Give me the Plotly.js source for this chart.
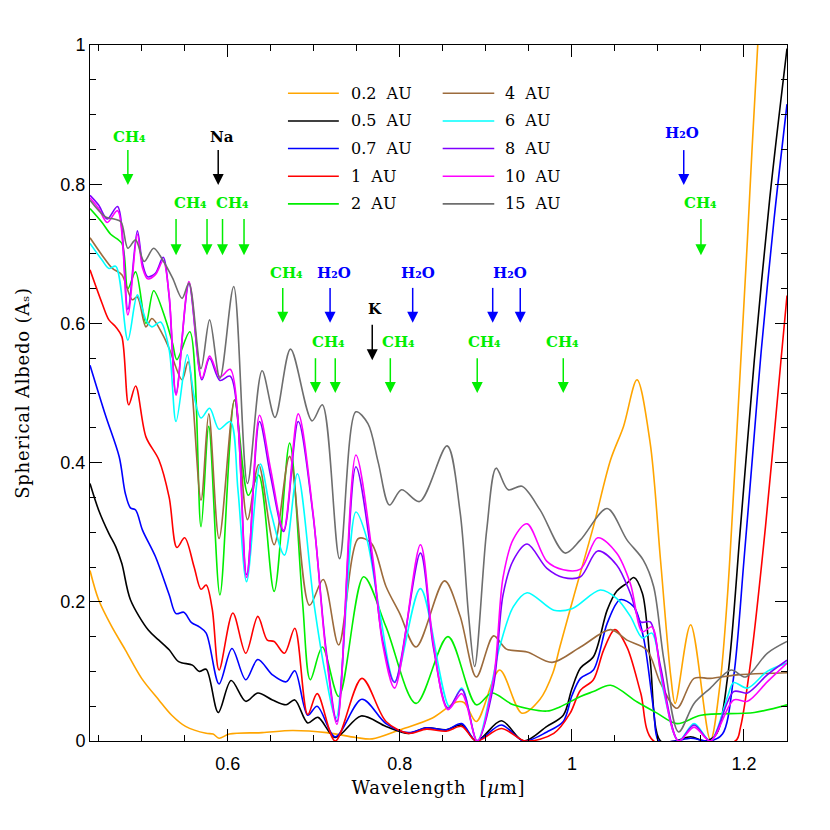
<!DOCTYPE html>
<html><head><meta charset="utf-8">
<script src="https://cdn.plot.ly/plotly-3.0.1.min.js"></script>
<style>
html,body{margin:0;padding:0;background:#fff}
.xtitle,.ytitle{letter-spacing:0.8px}
</style>
</head><body><div id="chart" style="width:830px;height:830px"></div>
<script>
// ---- series data (wavelength in micron, spherical albedo) ----
const seriesNames = ['0.2 AU','0.5 AU','0.7 AU','1 AU','2 AU','4 AU','6 AU','8 AU','10 AU','15 AU'];
const seriesColors = ['#ffa500','#000000','#0000ff','#ff0000','#00ee00','#9c6b3c','#00ffff','#7f00ff','#ff00ff','#6e6e6e'];

const wl_02 = [0.44,0.45,0.465,0.481,0.50,0.52,0.535,0.551,0.575,0.583,0.59,0.602,0.64,0.675,0.715,0.749,0.768,0.80,0.838,0.866,0.875,0.889,0.916,0.942,0.963,0.978,0.986,1.002,1.025,1.045,1.060,1.0757,1.091,1.103,1.115,1.120,1.138,1.161,1.172,1.181,1.192,1.204,1.216,1.226];
const as_02 = [0.245,0.203,0.165,0.131,0.090,0.059,0.037,0.021,0.011,0.010,0.004,0.010,0.012,0.015,0.012,0.005,0.003,0.016,0.033,0.056,0.055,0.028,0.102,0.040,0.060,0.098,0.135,0.207,0.308,0.404,0.452,0.519,0.428,0.260,0.092,0.054,0.167,0.001,0.08,0.212,0.45,0.72,1.0,1.16];

const wl_05 = [0.44,0.45,0.462,0.470,0.477,0.487,0.508,0.52,0.532,0.543,0.559,0.567,0.575,0.589,0.604,0.621,0.635,0.652,0.668,0.678,0.693,0.705,0.725,0.755,0.784,0.81,0.831,0.854,0.872,0.889,0.918,0.944,0.971,0.99,1.0,1.010,1.025,1.041,1.052,1.064,1.072,1.082,1.091,1.103,1.12,1.138,1.155,1.168,1.181,1.196,1.212,1.23,1.25];
const as_05 = [0.370,0.332,0.298,0.279,0.255,0.203,0.159,0.145,0.131,0.114,0.109,0.100,0.103,0.041,0.087,0.057,0.069,0.059,0.052,0.059,0.026,0.034,0.005,0.036,0.021,0.011,0.019,0.016,0.023,0.0,0.029,0.0,0.021,0.037,0.075,0.105,0.121,0.188,0.215,0.227,0.235,0.212,0.116,0.0,0.0,0.006,0.0,0.01,0.092,0.308,0.547,0.78,0.995];

const wl_07 = [0.44,0.458,0.474,0.481,0.487,0.493,0.501,0.516,0.532,0.540,0.549,0.558,0.567,0.575,0.590,0.605,0.621,0.635,0.652,0.668,0.678,0.693,0.704,0.725,0.756,0.784,0.81,0.831,0.854,0.872,0.889,0.918,0.944,0.971,0.99,1.0,1.010,1.025,1.041,1.056,1.072,1.083,1.095,1.101,1.12,1.138,1.16,1.175,1.188,1.20,1.21,1.22,1.235,1.25];
const as_07 = [0.540,0.468,0.408,0.356,0.335,0.332,0.303,0.265,0.210,0.183,0.185,0.170,0.164,0.155,0.082,0.133,0.088,0.117,0.095,0.085,0.101,0.037,0.050,0.006,0.060,0.025,0.012,0.019,0.016,0.025,0.0,0.023,0.0,0.013,0.028,0.065,0.090,0.102,0.169,0.203,0.193,0.150,0.045,0.0,0.0,0.004,0.0,0.01,0.092,0.26,0.41,0.56,0.75,0.915];

const wl_1 = [0.44,0.454,0.462,0.470,0.477,0.485,0.493,0.505,0.520,0.532,0.541,0.550,0.561,0.569,0.575,0.582,0.590,0.606,0.621,0.635,0.646,0.654,0.666,0.678,0.693,0.704,0.725,0.756,0.784,0.81,0.831,0.854,0.872,0.889,0.918,0.946,0.979,0.998,1.01,1.025,1.037,1.050,1.064,1.080,1.095,1.19,1.196,1.208,1.225,1.243,1.25];
const as_1 = [0.677,0.629,0.605,0.595,0.581,0.483,0.510,0.437,0.404,0.350,0.278,0.292,0.250,0.218,0.224,0.190,0.102,0.184,0.126,0.179,0.145,0.143,0.126,0.162,0.038,0.068,0.0,0.090,0.028,0.011,0.017,0.014,0.021,0.0,0.018,0.0,0.011,0.040,0.073,0.088,0.131,0.160,0.135,0.069,0.0,0.0,0.02,0.116,0.308,0.547,0.64];

const wl_2 = [0.44,0.454,0.464,0.477,0.484,0.493,0.505,0.514,0.528,0.536,0.541,0.556,0.569,0.578,0.591,0.608,0.624,0.636,0.654,0.672,0.687,0.696,0.710,0.729,0.758,0.784,0.819,0.856,0.889,0.907,0.932,0.971,0.986,1.01,1.025,1.045,1.076,1.099,1.122,1.150,1.212,1.25];
const as_2 = [0.765,0.745,0.728,0.715,0.650,0.674,0.600,0.647,0.605,0.571,0.548,0.588,0.308,0.452,0.210,0.490,0.353,0.382,0.215,0.428,0.200,0.088,0.135,0.064,0.236,0.164,0.054,0.150,0.052,0.069,0.052,0.043,0.049,0.064,0.071,0.080,0.056,0.040,0.025,0.037,0.041,0.052];

const wl_4 = [0.44,0.454,0.466,0.477,0.489,0.495,0.505,0.512,0.524,0.532,0.547,0.554,0.569,0.578,0.590,0.608,0.623,0.636,0.654,0.672,0.695,0.711,0.729,0.752,0.767,0.784,0.80,0.819,0.852,0.870,0.889,0.909,0.924,0.948,0.977,1.01,1.045,1.064,1.087,1.103,1.122,1.142,1.161,1.192,1.25];
const as_4 = [0.723,0.698,0.679,0.670,0.634,0.638,0.595,0.607,0.585,0.564,0.519,0.545,0.346,0.470,0.291,0.490,0.318,0.397,0.282,0.409,0.195,0.232,0.138,0.291,0.284,0.222,0.183,0.135,0.230,0.180,0.092,0.151,0.132,0.128,0.113,0.135,0.160,0.145,0.131,0.083,0.047,0.090,0.090,0.095,0.098];

const wl_6 = [0.44,0.454,0.462,0.470,0.484,0.495,0.505,0.512,0.522,0.532,0.540,0.553,0.561,0.569,0.579,0.590,0.603,0.612,0.622,0.638,0.650,0.666,0.681,0.700,0.713,0.726,0.749,0.761,0.777,0.794,0.824,0.858,0.872,0.890,0.916,0.932,0.948,0.979,1.0,1.033,1.052,1.068,1.082,1.093,1.107,1.124,1.142,1.161,1.181,1.188,1.204,1.227,1.25];
const as_6 = [0.715,0.691,0.679,0.682,0.576,0.641,0.605,0.595,0.602,0.562,0.459,0.555,0.495,0.464,0.478,0.448,0.459,0.36,0.229,0.398,0.33,0.267,0.384,0.20,0.10,0.033,0.329,0.294,0.183,0.085,0.219,0.049,0.076,0.0,0.135,0.193,0.213,0.188,0.19,0.217,0.205,0.179,0.148,0.155,0.069,0.0,0.025,0.0,0.064,0.084,0.076,0.100,0.112];

const wl_8 = [0.44,0.45,0.46,0.472,0.484,0.495,0.501,0.507,0.516,0.525,0.532,0.540,0.555,0.570,0.579,0.591,0.603,0.622,0.637,0.650,0.665,0.682,0.699,0.714,0.727,0.749,0.769,0.780,0.794,0.824,0.839,0.856,0.872,0.890,0.909,0.920,0.932,0.948,0.971,0.99,1.01,1.030,1.052,1.068,1.080,1.091,1.103,1.124,1.142,1.161,1.188,1.204,1.227,1.25];
const as_8 = [0.784,0.770,0.750,0.768,0.620,0.733,0.686,0.667,0.672,0.695,0.638,0.499,0.657,0.519,0.550,0.518,0.524,0.239,0.459,0.38,0.301,0.459,0.327,0.135,0.028,0.394,0.25,0.145,0.084,0.270,0.135,0.047,0.074,0.0,0.08,0.21,0.26,0.283,0.248,0.235,0.236,0.273,0.253,0.212,0.171,0.171,0.107,0.0,0.023,0.0,0.071,0.069,0.095,0.116];

const wl_10 = [0.44,0.45,0.46,0.472,0.484,0.495,0.501,0.507,0.516,0.525,0.532,0.540,0.555,0.570,0.579,0.591,0.603,0.622,0.637,0.650,0.665,0.682,0.699,0.714,0.727,0.749,0.769,0.780,0.794,0.824,0.839,0.856,0.872,0.890,0.909,0.920,0.932,0.948,0.971,0.99,1.01,1.030,1.052,1.068,1.082,1.093,1.103,1.124,1.142,1.161,1.188,1.204,1.227,1.25];
const as_10 = [0.780,0.765,0.745,0.762,0.612,0.728,0.680,0.664,0.670,0.690,0.640,0.497,0.660,0.521,0.553,0.523,0.534,0.235,0.468,0.39,0.303,0.470,0.33,0.13,0.024,0.411,0.26,0.14,0.076,0.282,0.14,0.045,0.068,0.0,0.09,0.235,0.29,0.312,0.258,0.246,0.247,0.292,0.270,0.226,0.157,0.164,0.10,0.0,0.020,0.0,0.059,0.057,0.085,0.112];

const wl_15 = [0.44,0.458,0.468,0.476,0.484,0.493,0.503,0.514,0.525,0.536,0.547,0.555,0.569,0.579,0.591,0.607,0.623,0.640,0.655,0.673,0.698,0.710,0.730,0.749,0.763,0.775,0.788,0.802,0.823,0.855,0.870,0.880,0.887,0.901,0.912,0.926,0.942,0.963,0.992,1.01,1.041,1.064,1.083,1.095,1.107,1.124,1.142,1.161,1.185,1.202,1.227,1.25];
const as_15 = [0.777,0.753,0.750,0.746,0.708,0.720,0.689,0.708,0.690,0.665,0.636,0.658,0.535,0.605,0.521,0.653,0.370,0.532,0.465,0.563,0.460,0.483,0.262,0.473,0.456,0.40,0.339,0.361,0.344,0.424,0.33,0.18,0.107,0.303,0.392,0.361,0.366,0.332,0.270,0.289,0.334,0.289,0.260,0.222,0.116,0.013,0.054,0.076,0.102,0.092,0.126,0.143];

const seriesX = [wl_02,wl_05,wl_07,wl_1,wl_2,wl_4,wl_6,wl_8,wl_10,wl_15];
const seriesY = [as_02,as_05,as_07,as_1,as_2,as_4,as_6,as_8,as_10,as_15];

// ---- absorption feature markers ----
const labelText = ['CH₄','Na','CH₄','CH₄','CH₄','H₂O','K','CH₄','CH₄','H₂O','CH₄','H₂O','CH₄','H₂O','CH₄'];
const labelKind = ['CH4','atom','CH4','CH4','CH4','H2O','atom','CH4','CH4','H2O','CH4','H2O','CH4','H2O','CH4'];
const labelX = [0.486,0.593,0.557,0.606,0.668,0.724,0.771,0.717,0.798,0.821,0.899,0.928,0.989,1.128,1.149];
const labelY = [0.868,0.868,0.773,0.773,0.672,0.672,0.621,0.573,0.573,0.672,0.573,0.672,0.573,0.873,0.773];
const arrowX = [0.484,0.589,0.540,0.576,0.594,0.619,0.664,0.719,0.768,0.702,0.725,0.789,0.815,0.890,0.908,0.940,0.990,1.130,1.150];
const arrowKind = ['CH4','atom','CH4','CH4','CH4','CH4','CH4','H2O','atom','CH4','CH4','CH4','H2O','CH4','H2O','H2O','CH4','H2O','CH4'];
const arrowTop = [0.849,0.849,0.750,0.750,0.750,0.750,0.651,0.651,0.598,0.550,0.550,0.550,0.651,0.550,0.651,0.651,0.550,0.849,0.750];
const arrowTip = [0.799,0.799,0.698,0.698,0.698,0.698,0.601,0.601,0.547,0.500,0.500,0.500,0.601,0.500,0.601,0.601,0.500,0.799,0.698];
const kindColor = {CH4:'#00ee00', H2O:'#0000ff', atom:'#000000'};

// ---- build traces ----
const traces = seriesNames.map((n,i)=>({
  type:'scatter', mode:'lines', name:n, x:seriesX[i], y:seriesY[i],
  line:{color:seriesColors[i], width:1.6, shape:'spline', smoothing:0.9},
  showlegend:false, hoverinfo:'skip'
}));

// arrows: shafts + heads as scatter traces, one per kind
Object.keys(kindColor).forEach(kind=>{
  const sx=[], sy=[], hx=[], hy=[];
  arrowX.forEach((ax,i)=>{
    if(arrowKind[i]!==kind) return;
    sx.push(ax, ax, null); sy.push(arrowTop[i], arrowTip[i]+0.008, null);
    hx.push(ax); hy.push(arrowTip[i]);
  });
  traces.push({type:'scatter', mode:'lines', x:sx, y:sy, showlegend:false, hoverinfo:'skip',
    line:{color:kindColor[kind], width:1.5}});
  traces.push({type:'scatter', mode:'markers', x:hx, y:hy, showlegend:false, hoverinfo:'skip',
    marker:{symbol:'arrow-down', size:11, color:kindColor[kind], line:{width:0}}});
});

// empty trace on the overlay axes that carry the minor ticks
traces.push({type:'scatter', mode:'lines', x:[], y:[], xaxis:'x2', yaxis:'y2', showlegend:false, hoverinfo:'skip'});

const serif = 'DejaVu Serif, Liberation Serif, serif';
const annotations = [];
labelText.forEach((t,i)=>annotations.push({
  x:labelX[i], y:labelY[i], xref:'x', yref:'y', text:t, showarrow:false,
  font:{family:serif, size:15, color:kindColor[labelKind[i]], weight:'bold'}
}));

// manual two-column legend
const shapes = [];
const colX0 = [0.284,0.506], colX1 = [0.357,0.580], colTx = [0.372,0.593];
const rowY0 = 0.9306, rowStep = 0.0397;
seriesNames.forEach((n,i)=>{
  const c = Math.floor(i/5), r = i%5;
  const yy = rowY0 - r*rowStep;
  shapes.push({type:'line', xref:'paper', yref:'paper', x0:colX0[c], x1:colX1[c], y0:yy, y1:yy,
    line:{color:seriesColors[i], width:1.6}});
  annotations.push({xref:'paper', yref:'paper', x:colTx[c], y:yy, xanchor:'left', yanchor:'middle',
    text:n.replace(' ','  '), showarrow:false, font:{family:serif, size:16, color:'#000'}});
});

const xRange = [0.44,1.25], yRange = [0,1];
const axisCommon = {
  showgrid:false, zeroline:false, showline:true, linecolor:'#000', linewidth:1,
  mirror:'allticks', ticks:'inside', ticklen:12, tickwidth:1, tickcolor:'#000',
  tickfont:{family:'Liberation Sans, Arial, sans-serif', size:18, color:'#000'}
};
const minorCommon = {
  showgrid:false, zeroline:false, showline:false, showticklabels:false,
  ticks:'inside', ticklen:6, tickwidth:1, tickcolor:'#000', mirror:'ticks', tick0:0, dtick:0.05
};

const layout = {
  width:830, height:830, paper_bgcolor:'#fff', plot_bgcolor:'#fff',
  margin:{l:90, r:43, t:45, b:89},
  showlegend:false,
  xaxis:Object.assign({}, axisCommon, {
    range:xRange, tick0:0, dtick:0.2, ticklabelstandoff:6,
    title:{text:'Wavelength  [<i>µ</i>m]', font:{family:serif, size:18, color:'#000'}, standoff:8}
  }),
  yaxis:Object.assign({}, axisCommon, {
    range:yRange, tick0:0, dtick:0.2,
    title:{text:'Spherical Albedo (Aₛ)', font:{family:serif, size:18, color:'#000'}, standoff:26}
  }),
  xaxis2:Object.assign({}, minorCommon, {range:xRange, overlaying:'x', anchor:'y2', side:'bottom'}),
  yaxis2:Object.assign({}, minorCommon, {range:yRange, overlaying:'y', anchor:'x2', side:'left'}),
  annotations:annotations, shapes:shapes
};

Plotly.newPlot('chart', traces, layout, {displayModeBar:false, staticPlot:true});
</script></body></html>
